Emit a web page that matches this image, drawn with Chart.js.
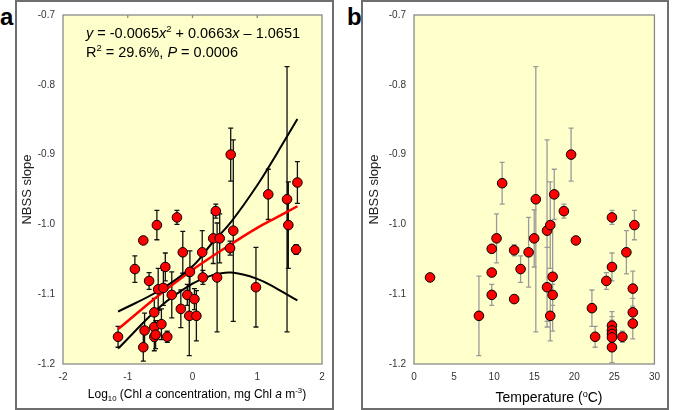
<!DOCTYPE html>
<html>
<head>
<meta charset="utf-8">
<script src="https://cdn.jsdelivr.net/npm/chart.js@4.4.1/dist/chart.umd.min.js"></script>
<style>
    body { margin: 0; background: #fff; width: 675px; height: 410px; overflow: hidden; position: relative; font-family: Arial, "Liberation Sans", sans-serif; }
    .frame { position: absolute; top: 0; height: 410px; box-sizing: border-box; border: 2px solid #6e6e6e; }
    .letter { position: absolute; top: 5px; font: bold 24px Arial, "Liberation Sans", sans-serif; line-height: 24px; color: #000; }
    canvas { position: absolute; }
</style>
</head>
<body>
<div class="frame" style="left:15px;width:319px"></div>
<div class="frame" style="left:361px;width:308px"></div>
<div class="letter" style="left:0">a</div>
<div class="letter" style="left:347px">b</div>
<canvas id="chartA" width="315" height="407" style="left:17px;top:1px"></canvas>
<canvas id="chartB" width="304" height="407" style="left:363px;top:1px"></canvas>
<script>
// Panel a: log10 chl a vs NBSS slope
const chlX = [-1.15, -0.89, -0.76, -0.76, -0.74, -0.67, -0.59, -0.59, -0.59, -0.57, -0.55, -0.53, -0.45, -0.48, -0.42, -0.39, -0.32, -0.24, -0.18, -0.15, -0.08, -0.05, -0.04, 0.03, 0.06, 0.15, 0.16, 0.32, 0.36, 0.42, 0.38, 0.58, 0.59, 0.63, 0.98, 1.17, 1.46, 1.48, 1.62, 1.60];
const chlSlope = [-1.161, -1.064, -1.023, -1.176, -1.152, -1.081, -1.126, -1.147, -1.161, -1.158, -1.001, -1.093, -1.091, -1.143, -1.061, -1.161, -1.101, -0.990, -1.121, -1.040, -1.101, -1.131, -1.068, -1.107, -1.131, -1.040, -1.076, -1.020, -0.981, -1.020, -1.076, -1.034, -0.900, -1.009, -1.090, -0.957, -0.964, -1.001, -0.940, -1.036];
const chlErr = [0.015, 0.019, 0, 0.02, 0.025, 0.012, 0.02, 0.02, 0.02, 0.02, 0.021, 0.03, 0.025, 0.022, 0.02, 0.008, 0.033, 0.01, 0.027, 0.03, 0.015, 0.057, 0.03, 0.015, 0.036, 0.031, 0.01, 0.036, 0.01, 0.035, 0.078, 0.01, 0.038, 0.13, 0.057, 0.036, 0.19, 0.062, 0.03, 0.007];

// fitted curve and 95% band
const curveX = [-1.15, -0.5, 0, 0.3, 0.6, 1.0, 1.3, 1.62];
const fitY = [-1.150, -1.100, -1.065, -1.046, -1.028, -1.005, -0.990, -0.974];
const bandUpper = [-1.125, -1.094, -1.060, -1.027, -0.996, -0.944, -0.899, -0.849];
const bandLower = [-1.178, -1.118, -1.085, -1.073, -1.069, -1.078, -1.092, -1.109];

// Panel b: temperature vs NBSS slope
const tempX = [2.0, 8.1, 9.7, 9.7, 9.7, 10.3, 11.0, 12.5, 12.5, 13.3, 14.3, 15.0, 15.2, 16.6, 17.0, 16.6, 17.3, 17.3, 17.0, 17.5, 18.7, 19.6, 20.2, 22.2, 22.6, 24.0, 24.7, 24.7, 24.7, 24.7, 24.7, 24.7, 24.7, 26.0, 26.5, 27.3, 27.3, 27.3, 27.5];
const tempSlope = [-1.076, -1.131, -1.035, -1.069, -1.101, -1.020, -0.941, -1.037, -1.107, -1.064, -1.040, -1.020, -0.964, -1.009, -1.001, -1.090, -1.075, -1.101, -1.131, -0.957, -0.981, -0.900, -1.023, -1.120, -1.161, -1.081, -0.990, -1.061, -1.145, -1.152, -1.157, -1.162, -1.176, -1.161, -1.040, -1.092, -1.126, -1.142, -1.001];
const tempErr = [0, 0.057, 0, 0, 0.015, 0.035, 0.03, 0.008, 0, 0.019, 0.05, 0.041, 0.19, 0.13, 0.062, 0.057, 0.078, 0.015, 0.036, 0.036, 0.01, 0.038, 0, 0.026, 0.015, 0.012, 0.01, 0.02, 0.02, 0.02, 0.02, 0.02, 0.022, 0.008, 0.031, 0.025, 0.02, 0.022, 0.021];

// tick labels
const slopeTicks = [-1.2, -1.1, -1.0, -0.9, -0.8, -0.7];
const chlTicks = [-2, -1, 0, 1, 2];
const tempTicks = [0, 5, 10, 15, 20, 25, 30];

const FONT = 'Arial, "Liberation Sans", sans-serif';

// draws text made of normal / italic / sup / sub pieces
function drawRich(ctx, parts, x, y, size, align) {
    const fontFor = p => {
        const small = p[1] === 'sup' || p[1] === 'sub';
        return (p[1] === 'i' ? 'italic ' : '') + (small ? size * 0.65 : size) + 'px ' + FONT;
    };
    let total = 0;
    parts.forEach(p => { ctx.font = fontFor(p); total += ctx.measureText(p[0]).width; });
    let cx = align === 'center' ? x - total / 2 : x;
    ctx.textAlign = 'left';
    ctx.textBaseline = 'alphabetic';
    parts.forEach(p => {
        ctx.font = fontFor(p);
        const dy = p[1] === 'sup' ? -size * 0.38 : p[1] === 'sub' ? size * 0.22 : 0;
        ctx.fillText(p[0], cx, y + dy);
        cx += ctx.measureText(p[0]).width;
    });
}

const panelExtras = {
    id: 'panelExtras',
    beforeDraw(chart, args, opts) {
        const a = chart.chartArea, ctx = chart.ctx;
        ctx.save();
        ctx.fillStyle = '#ffffcc';
        ctx.fillRect(a.left, a.top, a.right - a.left, a.bottom - a.top);
        ctx.restore();
    },
    beforeDatasetsDraw(chart, args, opts) {
        const a = chart.chartArea, ctx = chart.ctx;
        const xs = chart.scales.x, ys = chart.scales.y;
        ctx.save();
        ctx.strokeStyle = '#8a8a8a';
        ctx.lineWidth = 1.3;
        ctx.strokeRect(a.left, a.top, a.right - a.left, a.bottom - a.top);
        if (opts.topTicks) {
            ctx.beginPath();
            opts.topTicks.forEach(v => {
                const px = xs.getPixelForValue(v);
                ctx.moveTo(px, a.top);
                ctx.lineTo(px, a.top + 3);
            });
            ctx.stroke();
        }
        // error bars
        ctx.strokeStyle = opts.errColor;
        ctx.lineWidth = 1.3;
        ctx.beginPath();
        opts.xs.forEach((xv, i) => {
            const e = opts.errs[i];
            if (!e) return;
            const px = xs.getPixelForValue(xv);
            const top = ys.getPixelForValue(opts.ys[i] + e);
            const bot = ys.getPixelForValue(opts.ys[i] - e);
            ctx.moveTo(px, top); ctx.lineTo(px, bot);
            ctx.moveTo(px - 2.5, top); ctx.lineTo(px + 2.5, top);
            ctx.moveTo(px - 2.5, bot); ctx.lineTo(px + 2.5, bot);
        });
        ctx.stroke();
        ctx.restore();
    },
    afterDraw(chart, args, opts) {
        const ctx = chart.ctx;
        ctx.save();
        ctx.fillStyle = '#000';
        (opts.texts || []).forEach(t => drawRich(ctx, t.parts, t.x, t.y, t.size, t.align));
        ctx.restore();
    }
};

function slopeAxis(width, titlePad) {
    return {
        type: 'linear',
        min: -1.2,
        max: -0.7,
        afterBuildTicks: s => { s.ticks = slopeTicks.map(v => ({ value: v })); },
        afterFit: s => { s.width = width; },
        grid: { display: false, drawTicks: false },
        border: { display: false },
        ticks: { callback: v => v.toFixed(1), color: '#333', font: { size: 10, family: FONT }, padding: 8 },
        title: { display: true, text: 'NBSS slope', color: '#222', font: { size: 13, family: FONT }, padding: { top: titlePad, bottom: 0 } }
    };
}

function xAxis(min, max, tickList) {
    return {
        type: 'linear',
        min: min,
        max: max,
        afterBuildTicks: s => { s.ticks = tickList.map(v => ({ value: v })); },
        afterFit: s => { s.height = 44; },
        grid: { display: false, drawTicks: false },
        border: { display: false },
        ticks: { callback: v => String(v), color: '#333', font: { size: 10, family: FONT }, padding: 7, maxRotation: 0 }
    };
}

const pointStyle = {
    pointRadius: 4.8,
    pointBackgroundColor: '#ff0000',
    pointBorderColor: '#000',
    pointBorderWidth: 1,
    showLine: false,
    order: 0
};

function curve(ys, color, width) {
    return {
        data: curveX.map((x, i) => ({ x: x, y: ys[i] })),
        showLine: true,
        borderColor: color,
        borderWidth: width,
        pointRadius: 0,
        tension: 0.4,
        fill: false,
        order: 1
    };
}

document.addEventListener('DOMContentLoaded', () => {
    new Chart(document.getElementById('chartA').getContext('2d'), {
        type: 'scatter',
        data: {
            datasets: [
                Object.assign({ data: chlX.map((x, i) => ({ x: x, y: chlSlope[i] })) }, pointStyle),
                curve(bandUpper, '#000', 2),
                curve(bandLower, '#000', 2),
                curve(fitY, '#ff0000', 2.5)
            ]
        },
        options: {
            responsive: false,
            animation: false,
            events: [],
            layout: { padding: { left: 0, top: 13, right: 10, bottom: 0 } },
            scales: { x: xAxis(-2, 2, chlTicks), y: slopeAxis(46, 3) },
            plugins: {
                legend: { display: false },
                tooltip: { enabled: false },
                panelExtras: {
                    xs: chlX, ys: chlSlope, errs: chlErr, errColor: '#111',
                    topTicks: [-1, 0, 1],
                    texts: [
                        { parts: [['y', 'i'], [' = -0.0065', 'n'], ['x', 'i'], ['2', 'sup'], [' + 0.0663', 'n'], ['x', 'i'], [' \u2013 1.0651', 'n']], x: 69, y: 37, size: 14.5 },
                        { parts: [['R', 'n'], ['2', 'sup'], [' = 29.6%, ', 'n'], ['P', 'i'], [' = 0.0006', 'n']], x: 69, y: 56, size: 14.5 },
                        { parts: [['Log', 'n'], ['10', 'sub'], [' (Chl ', 'n'], ['a', 'i'], [' concentration, mg Chl ', 'n'], ['a', 'i'], [' m', 'n'], ['-3', 'sup'], [')', 'n']], x: 180, y: 397, size: 12, align: 'center' }
                    ]
                }
            }
        },
        plugins: [panelExtras]
    });

    new Chart(document.getElementById('chartB').getContext('2d'), {
        type: 'scatter',
        data: {
            datasets: [
                Object.assign({ data: tempX.map((x, i) => ({ x: x, y: tempSlope[i] })) }, pointStyle)
            ]
        },
        options: {
            responsive: false,
            animation: false,
            events: [],
            layout: { padding: { left: 0, top: 13, right: 6, bottom: 0 } },
            scales: { x: xAxis(0, 30, tempTicks), y: slopeAxis(51, 4) },
            plugins: {
                legend: { display: false },
                tooltip: { enabled: false },
                panelExtras: {
                    xs: tempX, ys: tempSlope, errs: tempErr, errColor: '#9a9a9a',
                    texts: [
                        { parts: [['Temperature (', 'n'], ['o', 'sup'], ['C)', 'n']], x: 186, y: 401, size: 14, align: 'center' }
                    ]
                }
            }
        },
        plugins: [panelExtras]
    });
});
</script>
</body>
</html>
